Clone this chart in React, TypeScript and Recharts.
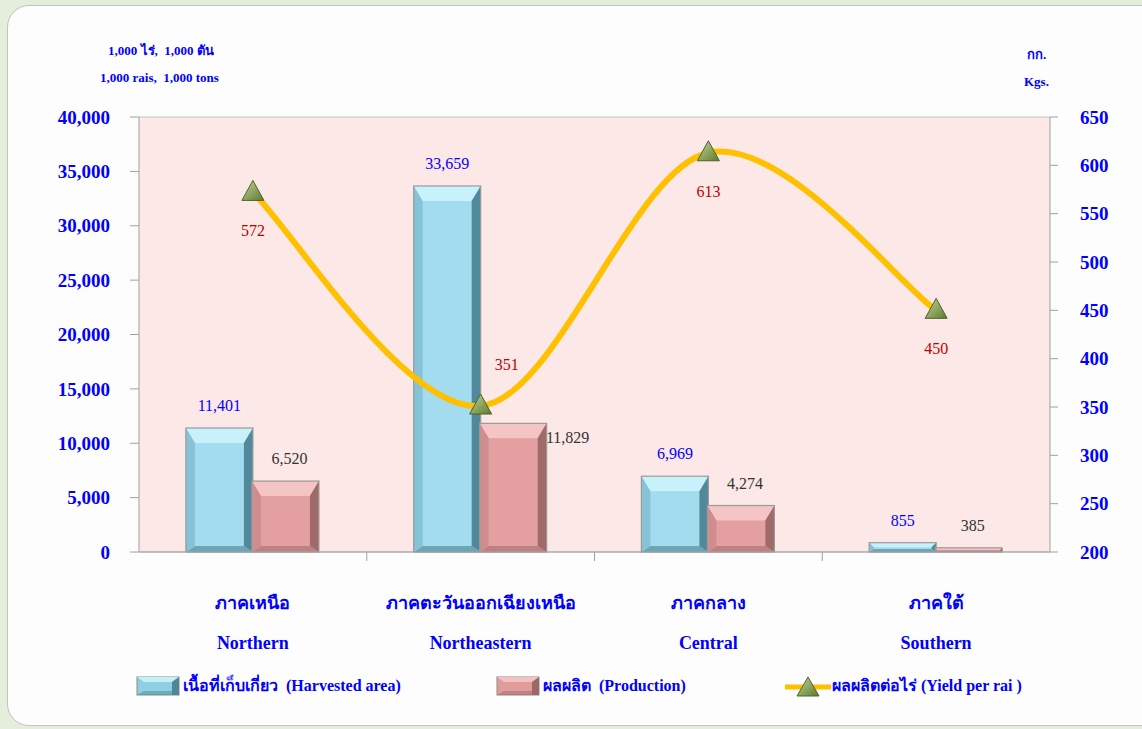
import React from 'react';
import { ComposedChart, Bar, Line, XAxis, YAxis, CartesianGrid, LabelList } from 'recharts';

const regionTh = ['ภาคเหนือ', 'ภาคตะวันออกเฉียงเหนือ', 'ภาคกลาง', 'ภาคใต้'];
const regionEn = ['Northern', 'Northeastern', 'Central', 'Southern'];
const harvestedArea = [11401, 33659, 6969, 855];
const production = [6520, 11829, 4274, 385];
const yieldPerRai = [572, 351, 613, 450];
const leftTicks = [0, 5000, 10000, 15000, 20000, 25000, 30000, 35000, 40000];
const rightTicks = [200, 250, 300, 350, 400, 450, 500, 550, 600, 650];

const data = regionEn.map((en, i) => ({
  en,
  th: regionTh[i],
  area: harvestedArea[i],
  prod: production[i],
  yld: yieldPerRai[i],
}));

const FONT = '"Liberation Serif", "Times New Roman", serif';
const BLUE = '#0000FF';
const BAND = (1050 - 139) / 4;

const fmt = (v: number) => v.toLocaleString('en-US');

// Excel-style smoothed line (Catmull-Rom through the points, ends clamped)
const excelSmooth = (context: any) => {
  let pts: number[][] = [];
  return {
    areaStart() {},
    areaEnd() {},
    lineStart() {
      pts = [];
    },
    point(x: number, y: number) {
      pts.push([+x, +y]);
    },
    lineEnd() {
      const n = pts.length;
      if (!n) return;
      context.moveTo(pts[0][0], pts[0][1]);
      for (let i = 0; i < n - 1; i++) {
        const p0 = pts[Math.max(i - 1, 0)];
        const p1 = pts[i];
        const p2 = pts[i + 1];
        const p3 = pts[Math.min(i + 2, n - 1)];
        context.bezierCurveTo(
          p1[0] + (p2[0] - p0[0]) / 6,
          p1[1] + (p2[1] - p0[1]) / 6,
          p2[0] - (p3[0] - p1[0]) / 6,
          p2[1] - (p3[1] - p1[1]) / 6,
          p2[0],
          p2[1]
        );
      }
    },
  };
};

// bevelled 3D-ish bar like the Excel original
const makeBevelBar = (base: string, light: string, dark: string, side: string, bottom: string) => (props: any) => {
  const { x, y, width: w, height: h } = props;
  if (!h || h <= 0) return null;
  const b = Math.min(15, h / 2);
  const s = Math.min(9, w / 4, h / 2);
  const bb = Math.min(6, h / 3);
  return (
    <g>
      <rect x={x} y={y} width={w} height={h} fill={base} />
      <polygon points={`${x},${y + h} ${x + w},${y + h} ${x + w - s},${y + h - bb} ${x + s},${y + h - bb}`} fill={bottom} />
      <polygon points={`${x},${y} ${x + w},${y} ${x + w - s},${y + b} ${x + s},${y + b}`} fill={light} />
      <polygon points={`${x},${y} ${x + s},${y + b} ${x + s},${y + h - bb} ${x},${y + h}`} fill={side} />
      <polygon points={`${x + w},${y} ${x + w},${y + h} ${x + w - s},${y + h - bb} ${x + w - s},${y + b}`} fill={dark} />
      <rect x={x} y={y} width={w} height={h} fill="none" stroke="#9a9a9a" strokeWidth={1.2} />
    </g>
  );
};

const BlueBar = makeBevelBar('#a2dcee', '#c8f2fb', '#52899a', '#86c3d6', '#6aa5b8');
const PinkBar = makeBevelBar('#e4a0a0', '#f5c4c4', '#a06a6a', '#cf8e8e', '#bf8080');

const CategoryTick = (props: any) => {
  const { x, y, payload, index } = props;
  const d = data[index] || data.find((r) => r.en === payload.value);
  return (
    <g>
      {index < 3 && (
        <line x1={x + BAND / 2} y1={y} x2={x + BAND / 2} y2={y + 9} stroke="#a0a0a0" />
      )}
      <text x={x} y={y + 57} textAnchor="middle" fill={BLUE} fontFamily={FONT} fontWeight="bold" fontSize={18}>
        {d ? d.th : ''}
      </text>
      <text x={x} y={y + 97} textAnchor="middle" fill={BLUE} fontFamily={FONT} fontWeight="bold" fontSize={18}>
        {payload.value}
      </text>
    </g>
  );
};

const AreaLabel = (props: any) => {
  const { x, y, width, value } = props;
  return (
    <text x={x + width / 2} y={y - 17} textAnchor="middle" fill={BLUE} fontFamily={FONT} fontSize={16}>
      {fmt(value)}
    </text>
  );
};

const ProdLabel = (props: any) => {
  const { x, y, width, value, index } = props;
  const side = index === 1;
  return (
    <text
      x={side ? x + width + 21 : x + width / 2 + 4}
      y={side ? y + 20 : y - 17}
      textAnchor="middle"
      fill="#333333"
      fontFamily={FONT}
      fontSize={16}
    >
      {fmt(value)}
    </text>
  );
};

const YieldLabel = (props: any) => {
  const { x, y, value, index } = props;
  const above = index === 1;
  return (
    <text
      x={above ? x + 26 : x}
      y={above ? y - 36 : y + 44}
      textAnchor="middle"
      fill="#C00000"
      fontFamily={FONT}
      fontSize={16}
    >
      {value}
    </text>
  );
};

const TriangleDot = (props: any) => {
  const { cx, cy, index } = props;
  if (cx == null || cy == null) return null;
  return (
    <polygon
      key={`tri-${index}`}
      points={`${cx},${cy - 12} ${cx + 11},${cy + 8} ${cx - 11},${cy + 8}`}
      fill="url(#triGrad)"
      stroke="#4f6228"
      strokeWidth={1}
    />
  );
};

const LegendBox = ({ fill, light, dark }: { fill: string; light: string; dark: string }) => (
  <svg width={44} height={20} style={{ verticalAlign: 'middle' }}>
    <rect x={1} y={1} width={42} height={18} fill={fill} stroke="#8a8a8a" />
    <polygon points="1,1 43,1 36,6 8,6" fill={light} />
    <polygon points="43,1 43,19 36,19 36,6" fill={dark} />
    <polygon points="1,19 43,19 36,15 8,15" fill={dark} opacity={0.5} />
  </svg>
);

export default function App() {
  const textStyle: React.CSSProperties = {
    position: 'absolute',
    fontFamily: FONT,
    fontWeight: 'bold',
    color: BLUE,
    whiteSpace: 'pre',
  };
  return (
    <div style={{ position: 'relative', width: 1142, height: 729, background: '#e4eedb', overflow: 'hidden' }}>
      <style>{'body{margin:0}'}</style>
      <div
        style={{
          position: 'absolute',
          left: 7,
          top: 5,
          width: 1160,
          height: 719,
          background: '#fdfdfd',
          border: '1px solid #c2c2c2',
          borderRadius: 22,
        }}
      />
      <div style={{ ...textStyle, left: 108, top: 40, fontSize: 13 }}>{'1,000 ไร่,  1,000 ตัน'}</div>
      <div style={{ ...textStyle, left: 100, top: 70, fontSize: 13 }}>{'1,000 rais,  1,000 tons'}</div>
      <div style={{ ...textStyle, left: 1027, top: 44, fontSize: 13 }}>{'กก.'}</div>
      <div style={{ ...textStyle, left: 1024, top: 74, fontSize: 13 }}>{'Kgs.'}</div>

      <div style={{ position: 'absolute', left: 0, top: 0 }}>
        <ComposedChart
          width={1142}
          height={729}
          data={data}
          margin={{ top: 117, right: 0, left: 0, bottom: 67 }}
          barCategoryGap="20.6%"
          barGap={-1}
        >
          <defs>
            <linearGradient id="triGrad" x1="0" y1="0" x2="1" y2="1">
              <stop offset="0%" stopColor="#c3d69b" />
              <stop offset="100%" stopColor="#5e7a2c" />
            </linearGradient>
          </defs>
          <CartesianGrid stroke="#c4c4c4" vertical={false} fill="#fde8e8" strokeWidth={1.2} />
          <XAxis
            dataKey="en"
            xAxisId="x"
            height={110}
            tickSize={0}
            tickMargin={0}
            axisLine={{ stroke: '#a0a0a0' }}
            tickLine={false}
            tick={<CategoryTick />}
            interval={0}
          />
          <YAxis
            yAxisId="left"
            width={139}
            domain={[0, 40000]}
            ticks={leftTicks}
            tickFormatter={fmt}
            axisLine={{ stroke: '#a0a0a0' }}
            tickLine={{ stroke: '#a0a0a0' }}
            tickSize={9}
            tickMargin={20}
            tick={{ fill: BLUE, fontFamily: FONT, fontWeight: 'bold', fontSize: 19 }}
          />
          <YAxis
            yAxisId="right"
            orientation="right"
            width={92}
            domain={[200, 650]}
            ticks={rightTicks}
            axisLine={{ stroke: '#a0a0a0' }}
            tickLine={{ stroke: '#a0a0a0' }}
            tickSize={8}
            tickMargin={22}
            tick={{ fill: BLUE, fontFamily: FONT, fontWeight: 'bold', fontSize: 19, textAnchor: 'start' }}
          />
          <Bar dataKey="area" xAxisId="x" yAxisId="left" shape={BlueBar} isAnimationActive={false}>
            <LabelList dataKey="area" content={<AreaLabel />} />
          </Bar>
          <Bar dataKey="prod" xAxisId="x" yAxisId="left" shape={PinkBar} isAnimationActive={false}>
            <LabelList dataKey="prod" content={<ProdLabel />} />
          </Bar>
          <Line
            dataKey="yld"
            xAxisId="x"
            yAxisId="right"
            type={excelSmooth as any}
            stroke="#FFC000"
            strokeWidth={6}
            dot={TriangleDot}
            activeDot={false}
            isAnimationActive={false}
          >
            <LabelList dataKey="yld" content={<YieldLabel />} />
          </Line>
        </ComposedChart>
      </div>

      <div style={{ ...textStyle, left: 136, top: 673, fontSize: 16, display: 'flex', alignItems: 'center' }}>
        <LegendBox fill="#8fcfe2" light="#c4f0fa" dark="#4f8797" />
        <span style={{ marginLeft: 3 }}>{'เนื้อที่เก็บเกี่ยว  (Harvested area)'}</span>
      </div>
      <div style={{ ...textStyle, left: 496, top: 673, fontSize: 16, display: 'flex', alignItems: 'center' }}>
        <LegendBox fill="#e29b9b" light="#f4c0c0" dark="#9d6868" />
        <span style={{ marginLeft: 3 }}>{'ผลผลิต  (Production)'}</span>
      </div>
      <div style={{ ...textStyle, left: 785, top: 673, fontSize: 16, display: 'flex', alignItems: 'center' }}>
        <svg width={46} height={22} style={{ verticalAlign: 'middle' }}>
          <line x1={0} y1={12} x2={46} y2={12} stroke="#FFC000" strokeWidth={5} />
          <polygon points="23,2 34,21 12,21" fill="url(#triGradL)" stroke="#4f6228" />
          <defs>
            <linearGradient id="triGradL" x1="0" y1="0" x2="1" y2="1">
              <stop offset="0%" stopColor="#c3d69b" />
              <stop offset="100%" stopColor="#5e7a2c" />
            </linearGradient>
          </defs>
        </svg>
        <span style={{ marginLeft: 1 }}>{'ผลผลิตต่อไร่ (Yield per rai )'}</span>
      </div>
    </div>
  );
}
